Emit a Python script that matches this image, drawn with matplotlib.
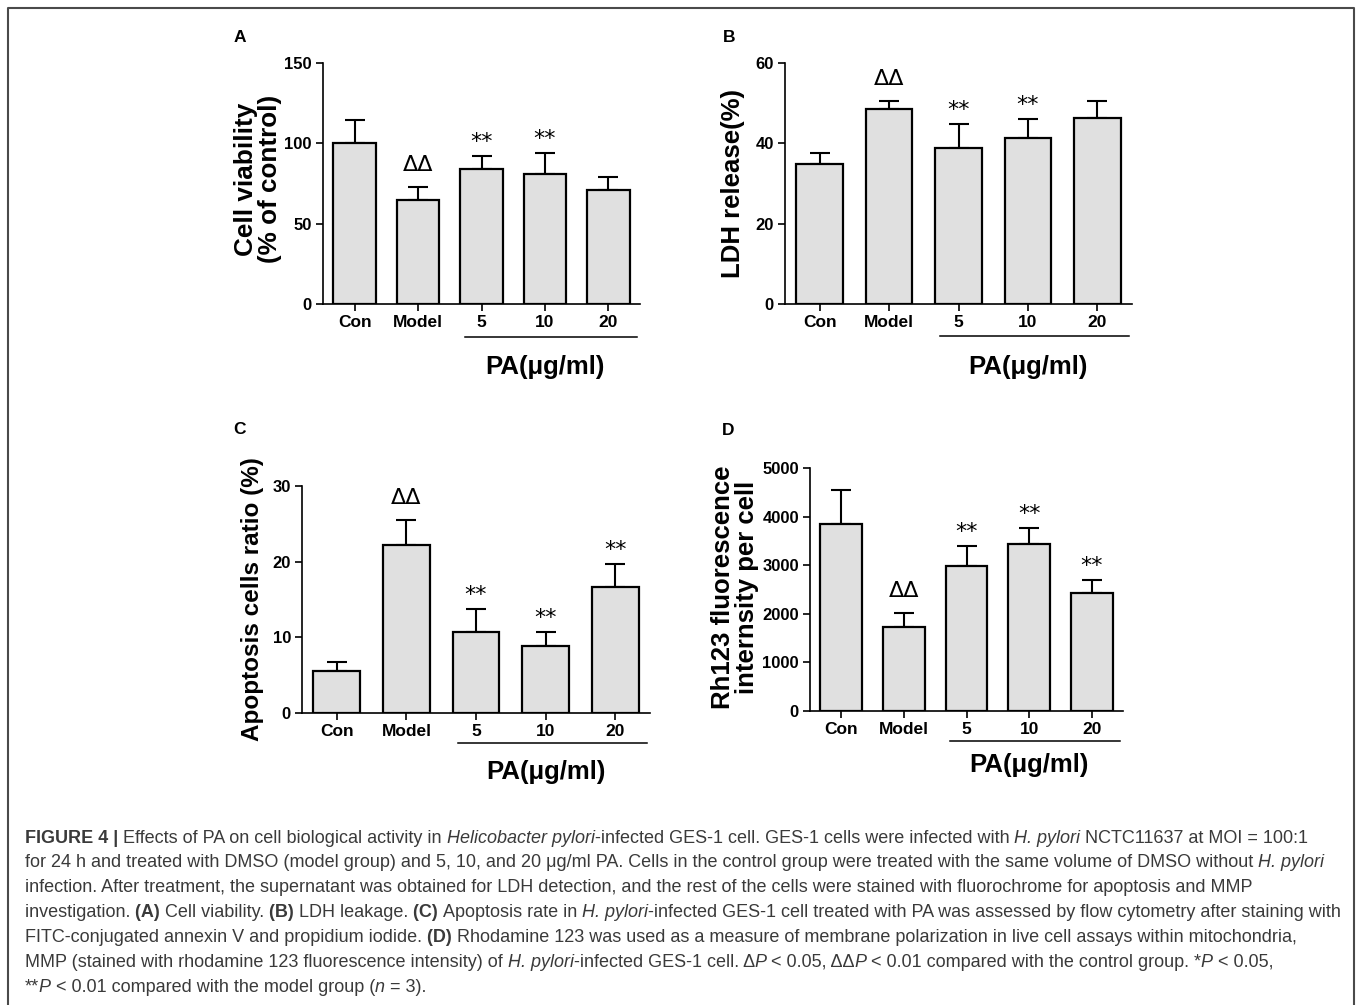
import numpy as np
import matplotlib
matplotlib.use("Agg")
import matplotlib.pyplot as plt
import matplotlib.transforms as mtransforms
from matplotlib.lines import Line2D

plt.rcParams['font.family'] = ['Liberation Sans', 'DejaVu Sans']

# ---- data ----
groups = ['Con', 'Model', '5', '10', '20']

viability_mean = [100.0, 64.7, 84.2, 81.0, 70.7]
viability_err = [14.5, 8.0, 8.1, 12.8, 8.1]
viability_marks = ['', 'ΔΔ', '**', '**', '']

ldh_mean = [34.9, 48.5, 38.9, 41.4, 46.3]
ldh_err = [2.8, 2.1, 6.0, 4.7, 4.2]
ldh_marks = ['', 'ΔΔ', '**', '**', '']

apop_mean = [5.5, 22.2, 10.7, 8.8, 16.7]
apop_err = [1.2, 3.3, 3.1, 1.9, 3.0]
apop_marks = ['', 'ΔΔ', '**', '**', '**']

rh_mean = [3846, 1727, 2986, 3440, 2429]
rh_err = [694, 283, 399, 324, 260]
rh_marks = ['', 'ΔΔ', '**', '**', '**']

W, H = 1357, 1005
fig = plt.figure(figsize=(W / 100, H / 100), dpi=100)


def add_panel(box, means, errs, marks, yticks, letter, letter_xy,
              ylabel, ylabel_xy, ylabel_fs, br_dy, pa_dy):
    x0, x1, ytop, ybot = box
    ax = fig.add_axes([x0 / W, 1 - ybot / H, (x1 - x0) / W, (ybot - ytop) / H])
    x = np.arange(len(groups))
    ax.errorbar(x, means, yerr=[np.zeros(len(errs)), errs], fmt='none',
                ecolor='black', elinewidth=1.5, capsize=7.5, capthick=1.5,
                zorder=1)
    ax.bar(x, means, width=0.67, color='#e0e0e0', edgecolor='black',
           linewidth=1.6, zorder=2)
    ax.set_xlim(-0.5, 4.5)
    ax.set_ylim(0, yticks[-1])
    ax.set_yticks(yticks)
    ax.set_xticks(x)
    ax.set_xticklabels(groups, fontsize=12.5, fontweight='bold')
    for lab in ax.get_yticklabels():
        lab.set_fontweight('bold')
        lab.set_fontsize(12)
    ax.tick_params(direction='out', length=5, width=1.2, pad=3)
    for s in ['top', 'right']:
        ax.spines[s].set_visible(False)
    for s in ['left', 'bottom']:
        ax.spines[s].set_linewidth(1.2)

    for i, m in enumerate(marks):
        if not m:
            continue
        off = 16 if m == 'ΔΔ' else 8
        ax.annotate(m, xy=(i, means[i] + errs[i]), xytext=(0, off),
                    textcoords='offset pixels', ha='center', va='baseline',
                    fontsize=16, family='DejaVu Sans')

    trans = ax.get_xaxis_transform() + mtransforms.ScaledTranslation(
        0, -br_dy / 100, fig.dpi_scale_trans)
    ax.plot([1.74, 4.46], [0, 0], transform=trans, color='black', lw=1.1,
            clip_on=False)
    ax.annotate('PA(μg/ml)', xy=(3.0, 0), xycoords=('data', 'axes fraction'),
                xytext=(0, -pa_dy), textcoords='offset pixels', ha='center',
                va='center', fontsize=18.5, fontweight='bold')

    fig.text(letter_xy[0] / W, 1 - letter_xy[1] / H, letter, ha='center',
             va='center', fontsize=12.5, fontweight='bold')
    fig.text(ylabel_xy[0] / W, 1 - ylabel_xy[1] / H, ylabel, rotation=90,
             ha='center', va='center', fontsize=ylabel_fs, fontweight='bold',
             linespacing=1.0, multialignment='center')
    return ax


add_panel((323, 640, 63, 304), viability_mean, viability_err, viability_marks,
          [0, 50, 100, 150], 'A', (240, 38),
          'Cell viability\n(% of control)', (258, 179), 18.8, 33, 63)
add_panel((785, 1132, 63, 304), ldh_mean, ldh_err, ldh_marks,
          [0, 20, 40, 60], 'B', (729, 38),
          'LDH release(%)', (733, 183), 18.5, 32, 63)
add_panel((302, 650, 486, 713), apop_mean, apop_err, apop_marks,
          [0, 10, 20, 30], 'C', (239, 429),
          'Apoptosis cells ratio (%)', (253, 599), 17.5, 30, 59)
add_panel((810, 1123, 468, 711), rh_mean, rh_err, rh_marks,
          [0, 1000, 2000, 3000, 4000, 5000], 'D', (728, 430),
          'Rh123 fluorescence\ninternsity per cell', (735, 587), 18.5, 30, 54)

# ---- frame around the figure (open at the bottom) ----
fig.add_artist(Line2D([8 / W, 8 / W, 1354 / W, 1354 / W],
                      [0, 1 - 8 / H, 1 - 8 / H, 0],
                      transform=fig.transFigure, color='#4a4a4a', lw=1.5))

# ---- caption ----
cap_fs = 13.0
cap_color = '#3a3a3a'
caption = [
    [("FIGURE 4 | ", 'b'), ("Effects of PA on cell biological activity in ", 'r'),
     ("Helicobacter pylori", 'i'),
     ("-infected GES-1 cell. GES-1 cells were infected with ", 'r'),
     ("H. pylori", 'i'), (" NCTC11637 at MOI = 100:1", 'r')],
    [("for 24 h and treated with DMSO (model group) and 5, 10, and 20 μg/ml PA. "
      "Cells in the control group were treated with the same volume of DMSO without ", 'r'),
     ("H. pylori", 'i')],
    [("infection. After treatment, the supernatant was obtained for LDH detection, "
      "and the rest of the cells were stained with fluorochrome for apoptosis and MMP", 'r')],
    [("investigation. ", 'r'), ("(A)", 'b'), (" Cell viability. ", 'r'), ("(B)", 'b'),
     (" LDH leakage. ", 'r'), ("(C)", 'b'), (" Apoptosis rate in ", 'r'),
     ("H. pylori", 'i'),
     ("-infected GES-1 cell treated with PA was assessed by flow cytometry after staining with", 'r')],
    [("FITC-conjugated annexin V and propidium iodide. ", 'r'), ("(D)", 'b'),
     (" Rhodamine 123 was used as a measure of membrane polarization in live cell "
      "assays within mitochondria,", 'r')],
    [("MMP (stained with rhodamine 123 fluorescence intensity) of ", 'r'),
     ("H. pylori", 'i'), ("-infected GES-1 cell. Δ", 'r'), ("P", 'i'),
     (" < 0.05, ΔΔ", 'r'), ("P", 'i'),
     (" < 0.01 compared with the control group. *", 'r'), ("P", 'i'),
     (" < 0.05,", 'r')],
    [("**", 'r'), ("P", 'i'), (" < 0.01 compared with the model group (", 'r'),
     ("n", 'i'), (" = 3).", 'r')],
]

renderer = fig.canvas.get_renderer()


def seg_kw(style):
    kw = dict(fontsize=cap_fs, color=cap_color, family='Liberation Sans')
    if style == 'b':
        kw['fontweight'] = 'bold'
    if style == 'i':
        kw['fontstyle'] = 'italic'
    return kw


for li, line in enumerate(caption):
    # move leading spaces onto the previous segment
    segs = []
    for txt, st in line:
        if segs and txt.startswith(' '):
            segs[-1] = (segs[-1][0] + ' ', segs[-1][1])
            txt = txt[1:]
        segs.append((txt, st))
    x = 25
    y = 842.5 + 24.85 * li
    for txt, st in segs:
        kw = seg_kw(st)
        fig.text(x / W, 1 - y / H, txt, ha='left', va='baseline', **kw)
        probe = fig.text(0, 0, txt + '|', **kw)
        bar = fig.text(0, 0, '|', **kw)
        w = (probe.get_window_extent(renderer).width
             - bar.get_window_extent(renderer).width)
        probe.remove()
        bar.remove()
        x += w

fig.savefig('out.png', dpi=100)
